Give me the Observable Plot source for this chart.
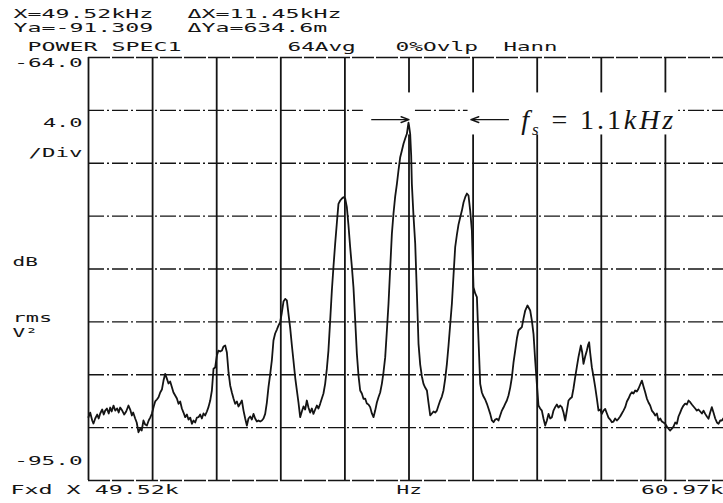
<!DOCTYPE html>
<html><head><meta charset="utf-8">
<script src="https://cdn.jsdelivr.net/npm/d3@7"></script>
<script src="https://cdn.jsdelivr.net/npm/@observablehq/plot@0.6"></script>
<style>html,body{margin:0;padding:0;background:#fff;overflow:hidden}#chart svg{display:block}</style>
</head><body><div id="chart"></div>
<script>
// ---- data ----
const spanKHz = [49.52, 60.97];
const rangeDb = [-96, -64];
const vGridKHz = [50.665, 51.81, 52.955, 54.1, 55.245, 56.39, 57.535, 58.68, 59.825];
const hGridDb = [-68, -72, -76, -80, -84, -88, -92];
const headerLine1 = ["X=49.52kHz", "ΔX=11.45kHz"];
const headerLine2 = ["Ya=-91.309", "ΔYa=634.6m"];
const titleParts = ["POWER SPEC1", "64Avg", "0%Ovlp", "Hann"];
const yLabels = ["-64.0", "4.0", "/Div", "dB", "rms", "V²", "-95.0"];
const xLabels = ["Fxd X 49.52k", "Hz", "60.97k"];
const fsLabel = "f_s = 1.1kHz";
const fsTipsKHz = [55.245, 56.35];
const fsTailsKHz = [54.58, 57.02];
const fsLevelDb = -68.7;
// trace: [frequency kHz, level dB]
const trace = [
[49.520,-91.21],[49.550,-90.86],[49.586,-91.46],[49.609,-91.69],[49.640,-91.31],[49.675,-91.01],[49.702,-91.31],[49.729,-90.93],
[49.765,-90.63],[49.792,-91.01],[49.818,-90.71],[49.849,-90.55],[49.881,-90.93],[49.908,-90.48],[49.934,-90.78],[49.967,-90.33],
[49.997,-90.71],[50.033,-90.55],[50.059,-90.86],[50.086,-90.48],[50.122,-90.71],[50.158,-91.01],[50.193,-90.78],[50.234,-90.33],
[50.265,-90.63],[50.295,-91.08],[50.318,-90.86],[50.354,-91.31],[50.381,-91.61],[50.413,-92.35],[50.443,-92.07],[50.470,-92.22],
[50.502,-91.46],[50.533,-91.77],[50.563,-91.84],[50.595,-91.46],[50.622,-91.24],[50.653,-90.93],
[50.685,-90.40],[50.711,-90.02],[50.742,-89.87],[50.771,-89.70],[50.801,-89.34],[50.831,-89.12],[50.860,-88.44],[50.890,-87.93],
[50.920,-88.29],[50.949,-88.66],[50.979,-88.51],[51.010,-88.94],[51.038,-89.34],[51.069,-89.57],[51.099,-89.80],[51.128,-90.20],
[51.158,-90.02],[51.188,-90.55],[51.217,-90.86],[51.247,-91.21],[51.278,-91.01],[51.306,-91.39],[51.337,-91.24],[51.367,-91.71],
[51.396,-91.46],[51.426,-91.61],[51.456,-91.24],[51.485,-91.21],[51.515,-91.01],[51.545,-91.31],[51.574,-90.93],[51.604,-91.08],
[51.635,-90.78],[51.663,-90.45],[51.694,-89.95],[51.724,-89.19],[51.753,-87.55],[51.783,-87.45],[51.813,-86.55],[51.842,-86.17],
[51.872,-86.24],[51.903,-86.17],[51.931,-85.86],[51.962,-85.79],[51.992,-86.32],[52.021,-87.81],[52.051,-88.81],[52.081,-89.34],
[52.110,-89.80],[52.140,-90.20],[52.171,-90.02],[52.199,-90.40],[52.230,-90.18],[52.260,-89.95],[52.289,-90.71],[52.319,-91.31],
[52.349,-91.84],[52.378,-91.31],[52.408,-91.16],[52.438,-91.39],[52.467,-90.96],[52.497,-91.31],[52.528,-91.54],[52.556,-91.46],
[52.587,-91.54],[52.617,-91.46],[52.646,-91.31],[52.676,-90.96],[52.706,-90.10],[52.735,-88.94],[52.765,-87.98],[52.795,-86.92],
[52.824,-85.41],[52.854,-84.88],[52.885,-84.58],[52.913,-84.28],[52.944,-84.03],[52.974,-83.29],[53.003,-82.46],[53.033,-82.26],
[53.063,-82.38],[53.092,-83.39],[53.122,-84.43],[53.153,-85.79],[53.181,-86.92],[53.212,-88.21],[53.242,-89.19],[53.271,-90.10],
[53.301,-91.21],[53.331,-90.78],[53.360,-90.40],[53.390,-90.63],[53.420,-89.95],[53.449,-90.48],[53.479,-90.86],[53.510,-90.55],
[53.538,-90.96],[53.569,-90.63],[53.599,-90.33],[53.628,-90.55],[53.658,-90.20],[53.688,-89.80],[53.717,-89.42],[53.747,-88.69],
[53.778,-87.53],[53.806,-86.17],[53.837,-83.90],[53.867,-81.63],[53.896,-79.81],[53.926,-78.09],[53.957,-76.48],[53.985,-75.07],
[54.016,-74.82],[54.046,-74.67],[54.075,-74.57],[54.105,-74.67],[54.135,-75.33],[54.164,-76.71],[54.194,-78.35],[54.224,-79.81],
[54.253,-81.38],[54.284,-83.90],[54.314,-86.42],[54.343,-88.06],[54.373,-89.19],[54.403,-89.42],[54.432,-89.82],[54.462,-89.80],
[54.492,-90.18],[54.521,-90.25],[54.551,-90.45],[54.582,-90.93],[54.611,-91.21],[54.641,-90.71],[54.671,-90.10],[54.700,-89.70],
[54.730,-89.34],[54.760,-88.69],[54.789,-87.83],[54.820,-86.67],[54.850,-84.65],[54.879,-82.63],[54.909,-79.96],[54.939,-77.34],
[54.968,-75.80],[54.998,-74.52],[55.029,-73.56],[55.057,-72.55],[55.088,-71.54],[55.118,-71.04],[55.147,-70.53],[55.177,-70.13],
[55.207,-69.77],[55.221,-69.37],[55.236,-68.92],[55.248,-69.22],[55.266,-69.77],[55.284,-71.41],[55.296,-73.56],[55.325,-75.95],
[55.356,-78.09],[55.386,-81.85],[55.415,-85.66],[55.445,-87.23],[55.475,-88.13],[55.504,-88.69],[55.534,-88.97],[55.565,-89.19],
[55.593,-90.10],[55.624,-91.08],[55.654,-90.93],[55.683,-90.78],[55.713,-90.86],[55.743,-90.71],[55.772,-90.33],[55.802,-89.95],
[55.832,-89.65],[55.861,-89.19],[55.892,-88.29],[55.922,-87.17],[55.951,-85.79],[55.981,-84.20],[56.011,-82.63],[56.040,-80.49],
[56.070,-78.35],[56.101,-77.39],[56.129,-76.64],[56.160,-76.08],[56.190,-75.58],[56.219,-74.97],[56.249,-74.57],[56.279,-74.29],
[56.308,-74.44],[56.338,-75.58],[56.368,-77.09],[56.397,-81.38],[56.428,-81.85],[56.458,-82.13],[56.487,-85.41],[56.517,-88.69],
[56.547,-89.34],[56.576,-89.65],[56.606,-89.87],[56.637,-90.20],[56.665,-90.55],[56.696,-90.96],[56.726,-91.46],[56.755,-91.59],
[56.785,-91.39],[56.815,-91.33],[56.844,-91.46],[56.874,-91.08],[56.904,-90.71],[56.933,-90.48],[56.963,-90.20],[56.993,-89.95],
[57.022,-89.57],[57.053,-88.97],[57.083,-88.19],[57.112,-87.07],[57.142,-86.17],[57.172,-85.26],[57.201,-84.65],[57.231,-84.52],
[57.261,-84.40],[57.290,-83.75],[57.321,-83.14],[57.362,-82.76],[57.410,-83.14],[57.440,-83.90],[57.469,-84.90],[57.499,-86.92],
[57.529,-88.69],[57.558,-90.33],[57.588,-90.55],[57.618,-90.71],[57.647,-91.31],[57.678,-91.84],[57.708,-91.46],[57.737,-90.96],
[57.767,-91.31],[57.797,-91.21],[57.826,-90.71],[57.856,-90.45],[57.886,-90.25],[57.915,-90.48],[57.946,-90.33],[57.976,-90.45],
[58.005,-90.86],[58.035,-91.46],[58.065,-90.71],[58.094,-89.95],[58.124,-89.80],[58.154,-89.70],[58.183,-89.04],[58.213,-88.19],
[58.244,-87.38],[58.272,-86.67],[58.315,-85.79],[58.339,-86.32],[58.362,-87.17],[58.392,-86.62],[58.422,-86.17],[58.446,-85.71],
[58.463,-85.54],[58.481,-86.32],[58.511,-87.43],[58.540,-88.13],[58.571,-88.94],[58.601,-89.80],[58.630,-90.71],[58.660,-90.63],
[58.690,-90.96],[58.719,-90.71],[58.749,-90.58],[58.780,-90.93],[58.808,-91.24],[58.839,-91.39],[58.869,-91.59],[58.898,-91.54],
[58.928,-91.31],[58.958,-91.46],[58.987,-91.33],[59.017,-91.16],[59.047,-90.93],[59.076,-90.71],[59.107,-90.45],[59.137,-90.02],
[59.166,-89.80],[59.196,-89.50],[59.226,-89.32],[59.255,-89.42],[59.285,-89.19],[59.315,-89.27],[59.344,-89.06],[59.375,-88.74],
[59.405,-88.44],[59.434,-88.89],[59.464,-89.32],[59.494,-89.80],[59.523,-90.10],[59.553,-90.33],[59.583,-90.71],[59.612,-90.86],
[59.643,-91.08],[59.673,-90.93],[59.702,-91.46],[59.732,-91.31],[59.762,-91.54],[59.791,-91.61],[59.821,-91.71],[59.851,-91.92],
[59.880,-92.07],[59.911,-92.22],[59.941,-92.07],[59.970,-91.92],[60.000,-91.61],[60.030,-91.71],[60.059,-91.16],[60.089,-90.86],
[60.119,-90.55],[60.148,-90.33],[60.178,-90.18],[60.208,-90.25],[60.238,-89.95],[60.268,-90.08],[60.298,-90.25],[60.327,-90.40],
[60.357,-90.55],[60.387,-90.71],[60.416,-90.63],[60.447,-90.78],[60.477,-90.93],[60.506,-90.71],[60.536,-90.96],[60.566,-91.16],
[60.595,-91.33],[60.625,-90.86],[60.655,-90.45],[60.684,-90.86],[60.715,-91.31],[60.745,-91.61],[60.774,-91.71],[60.804,-91.46],
[60.834,-91.46],[60.858,-91.31]
];

// ---- drawing ----
const INK = "#141414";
const MONO = "DejaVu Sans Mono";
const ML = 88, MT = 57;
const dash = "16,3,2,3";
function lbl(text, x, y, anchor = "start") {
  return Plot.text([text], {
    text: d => d, frameAnchor: "top-left", dx: x - ML, dy: y - MT,
    textAnchor: anchor, lineAnchor: "middle",
    fontFamily: MONO, fontSize: 12, fill: INK
  });
}

const chart = Plot.plot({
  width: 723, height: 503,
  marginLeft: ML, marginRight: -6, marginTop: MT, marginBottom: 23,
  x: {domain: spanKHz, axis: null},
  y: {domain: rangeDb, axis: null},
  marks: [
    Plot.ruleY(hGridDb, {stroke: INK, strokeWidth: 1.4, strokeDasharray: dash}),
    Plot.ruleY([rangeDb[1]], {stroke: INK, strokeWidth: 1.6, strokeDasharray: "22,2"}),
    Plot.ruleY([rangeDb[0]], {stroke: INK, strokeWidth: 1.6, strokeDasharray: "22,2"}),
    Plot.ruleX(vGridKHz, {stroke: INK, strokeWidth: 1.8}),
    Plot.ruleX([spanKHz[0]], {stroke: INK, strokeWidth: 1.8}),
    // white-out behind the f_s annotation
    Plot.rect([0], {x1: fsTailsKHz[0] - 0.15, x2: 60.06, y1: -66.68, y2: -69.86, fill: "white"}),
    Plot.ruleY([-68], {x1: fsTipsKHz[0] + 0.115, x2: fsTipsKHz[1] - 0.05, stroke: INK, strokeWidth: 1.4, strokeDasharray: dash}),
    Plot.arrow([0], {x1: fsTailsKHz[0], x2: fsTipsKHz[0], y1: fsLevelDb, y2: fsLevelDb, stroke: INK, strokeWidth: 1.4, headLength: 9, headAngle: 40}),
    Plot.arrow([0], {x1: fsTailsKHz[1], x2: fsTipsKHz[1], y1: fsLevelDb, y2: fsLevelDb, stroke: INK, strokeWidth: 1.4, headLength: 9, headAngle: 40}),
    Plot.text([fsLabel], {text: d => d, x: 57.25, y: fsLevelDb, textAnchor: "start", lineAnchor: "middle", fontFamily: "Liberation Serif", fontSize: 28, fill: INK}),
    Plot.line(trace, {x: d => d[0], y: d => d[1], stroke: INK, strokeWidth: 1.8, strokeLinejoin: "round"}),
    lbl(headerLine1[0], 13, 14), lbl(headerLine1[1], 187, 14),
    lbl(headerLine2[0], 13, 28), lbl(headerLine2[1], 187, 28),
    lbl(titleParts[0], 27, 47), lbl(titleParts[1], 287, 47), lbl(titleParts[2], 395, 47), lbl(titleParts[3], 503, 47),
    lbl(yLabels[0], 82, 63, "end"), lbl(yLabels[1], 82, 123, "end"), lbl(yLabels[2], 82, 153, "end"),
    lbl(yLabels[3], 12, 262), lbl(yLabels[4], 12, 318), lbl(yLabels[5], 12, 333),
    lbl(yLabels[6], 82, 461, "end"),
    lbl(xLabels[0], 10, 490), lbl(xLabels[1], 396, 490), lbl(xLabels[2], 723, 490, "end")
  ]
});

const NS = "http://www.w3.org/2000/svg";
function ts(parent, txt, attrs) {
  const e = document.createElementNS(NS, "tspan");
  e.textContent = txt;
  for (const k in attrs) e.setAttribute(k, attrs[k]);
  parent.appendChild(e);
}
chart.querySelectorAll("text").forEach(t => {
  const s = t.textContent;
  if (s === fsLabel) {
    t.textContent = "";
    ts(t, "f", {"font-style": "italic"});
    ts(t, "s", {"font-style": "italic", "font-size": "17", "dy": "6"});
    ts(t, " = 1.1", {"dy": "-6"});
    ts(t, "kHz", {"font-style": "italic"});
    t.setAttribute("textLength", 152);
    t.setAttribute("lengthAdjust", "spacing");
  } else {
    const n = [...s].length;
    t.setAttribute("textLength", (n * 14.3 - 3.3).toFixed(1));
    t.setAttribute("lengthAdjust", "spacingAndGlyphs");
  }
});
document.getElementById("chart").appendChild(chart);
</script>
</body></html>
